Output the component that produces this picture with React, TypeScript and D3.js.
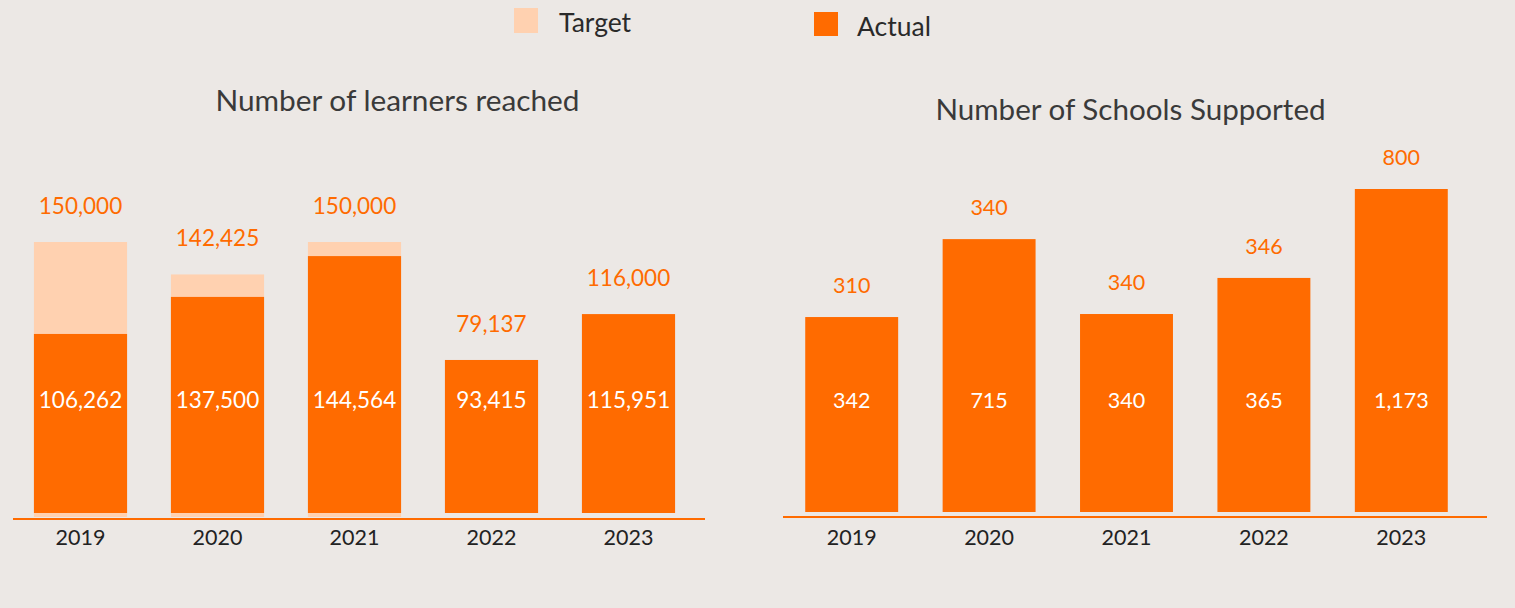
import React from "react";
import * as d3 from "d3";

// ---------- data ----------
const years = ["2019", "2020", "2021", "2022", "2023"];

// Learners chart: labels as printed
const learnersTargetLabels = [150000, 142425, 150000, 79137, 116000];
const learnersActualLabels = [106262, 137500, 144564, 93415, 115951];
// bar lengths as drawn in the reference (same units as learners)
const learnersTargetBars: (number | null)[] = [150000, 132300, 150000, null, null];
const learnersActualBars = [99100, 119600, 142200, 84700, 110100];

// Schools chart: labels as printed
const schoolsTopLabels = [310, 340, 340, 346, 800];
const schoolsInnerLabels = [342, 715, 340, 365, 1173];
// bar lengths as drawn in the reference (relative units, 1173 = tallest)
const schoolsBars = [708, 991, 719, 850, 1173];

const legendItems = ["Target", "Actual"];

// ---------- style ----------
const W = 1515;
const H = 608;
const BG = "#ECE8E5";
const ORANGE = "#FF6B00";
const PEACH = "#FFD1B0";
const FONT = "Lato, 'Open Sans', sans-serif";
const fmt = d3.format(",");

export default function App() {
  // left chart scales
  const xL = d3.scaleBand<string>().domain(years).range([12, 697]).paddingInner(0.32).paddingOuter(0.16);
  const yL = d3.scaleLinear().domain([0, 150000]).range([513, 242]);
  const yLT = d3.scaleLinear().domain([0, 150000]).range([517, 242]);

  // right chart scales
  const xR = d3.scaleBand<string>().domain(years).range([783, 1470]).paddingInner(0.3236).paddingOuter(0.1618);
  const yR = d3.scaleLinear().domain([0, 1173]).range([512, 189]);

  const bwL = xL.bandwidth();
  const bwR = xR.bandwidth();

  return (
    <svg
      width={W}
      height={H}
      style={{ position: "fixed", left: 0, top: 0, background: BG, fontFamily: FONT }}
    >
      <rect x={0} y={0} width={W} height={H} fill={BG} />

      {/* legend */}
      <g>
        <rect x={514} y={8} width={24} height={25} fill={PEACH} />
        <text x={559} y={32} fontSize={26.5} fill="#2a2a2a">{legendItems[0]}</text>
        <rect x={814} y={12} width={24} height={24} fill={ORANGE} />
        <text x={857} y={36} fontSize={26.5} fill="#2a2a2a">{legendItems[1]}</text>
      </g>

      {/* left chart */}
      <text x={397.5} y={111} fontSize={29.8} fill="#3a3a3a" textAnchor="middle">Number of learners reached</text>
      {years.map((yr, i) => {
        const x0 = xL(yr)!;
        const t = learnersTargetBars[i];
        const a = learnersActualBars[i];
        const topY = Math.min(t != null ? yLT(t) : Infinity, yL(a));
        return (
          <g key={"L" + yr}>
            {t != null && (
              <rect x={x0} y={yLT(t)} width={bwL} height={yLT(0) - yLT(t)} fill={PEACH} />
            )}
            <rect x={x0} y={yL(a)} width={bwL} height={yL(0) - yL(a)} fill={ORANGE} />
            <text x={x0 + bwL / 2} y={topY - 28} fontSize={22.5} fill={ORANGE} textAnchor="middle">
              {fmt(learnersTargetLabels[i])}
            </text>
            <text x={x0 + bwL / 2} y={408} fontSize={22.5} fill="#fff" textAnchor="middle">
              {fmt(learnersActualLabels[i])}
            </text>
            <text x={x0 + bwL / 2} y={545} fontSize={21.5} fill="#222" textAnchor="middle">{yr}</text>
          </g>
        );
      })}
      <line x1={13} x2={705} y1={519} y2={519} stroke={ORANGE} strokeWidth={2} />

      {/* right chart */}
      <text x={1130.5} y={120} fontSize={29.6} fill="#3a3a3a" textAnchor="middle">Number of Schools Supported</text>
      {years.map((yr, i) => {
        const x0 = xR(yr)!;
        const v = schoolsBars[i];
        return (
          <g key={"R" + yr}>
            <rect x={x0} y={yR(v)} width={bwR} height={yR(0) - yR(v)} fill={ORANGE} />
            <text x={x0 + bwR / 2} y={yR(v) - 24} fontSize={21.5} fill={ORANGE} textAnchor="middle">
              {fmt(schoolsTopLabels[i])}
            </text>
            <text x={x0 + bwR / 2} y={408} fontSize={21.5} fill="#fff" textAnchor="middle">
              {fmt(schoolsInnerLabels[i])}
            </text>
            <text x={x0 + bwR / 2} y={545} fontSize={21.5} fill="#222" textAnchor="middle">{yr}</text>
          </g>
        );
      })}
      <line x1={783} x2={1487} y1={517} y2={517} stroke={ORANGE} strokeWidth={2} />
    </svg>
  );
}
